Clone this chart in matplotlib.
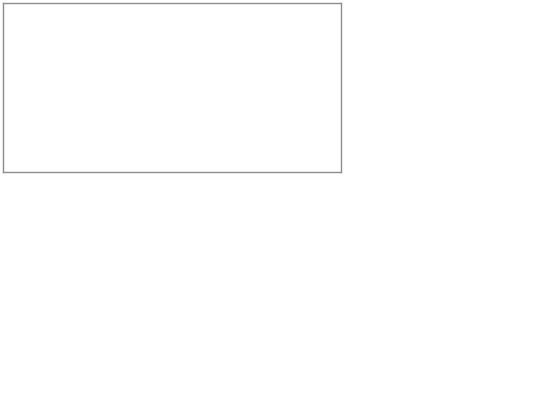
import matplotlib
matplotlib.use("Agg")
import matplotlib.pyplot as plt

# The reference shows an empty chart frame: no data series, no labels.
categories = []
values = []

fig = plt.figure(figsize=(5.4, 4.05), dpi=100)
fig.patch.set_facecolor("white")

W, H = 540, 405
left_px, right_px, top_px, bottom_px = 2.5, 340.5, 3.0, 172.0
ax = fig.add_axes([left_px / W, 1 - bottom_px / H,
                   (right_px - left_px) / W, (bottom_px - top_px) / H])
ax.set_facecolor("white")
if categories:
    ax.plot(categories, values)
ax.set_xticks([])
ax.set_yticks([])
for s in ax.spines.values():
    s.set_color("#8c8c8c")
    s.set_linewidth(1.0)

fig.savefig("out.png", dpi=100, facecolor="white")
